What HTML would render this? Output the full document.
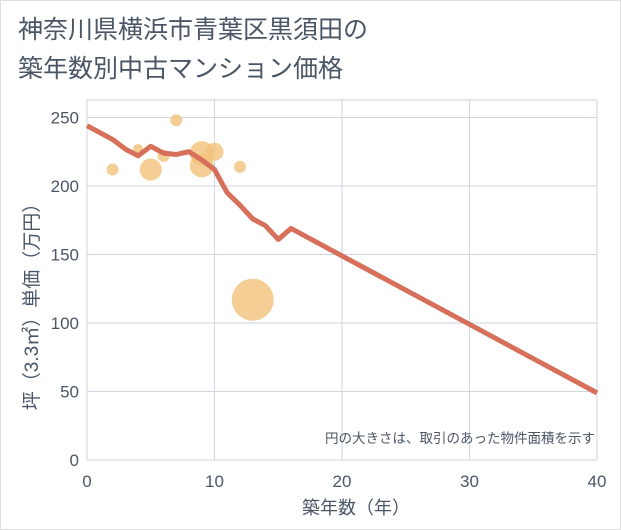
<!DOCTYPE html>
<html><head><meta charset="utf-8"><style>
body{margin:0;background:#fff;font-family:"Liberation Sans","Noto Sans CJK JP",sans-serif}
svg{display:block}
</style></head><body>
<svg width="621" height="530">
<rect x="0.5" y="0.5" width="620" height="529" fill="#fff" stroke="#ddd"/>
<text x="18" y="38" font-size="25" fill="#4a5666">神奈川県横浜市青葉区黒須田の</text>
<text x="18" y="77" font-size="25" fill="#4a5666">築年数別中古マンション価格</text>
<g id="grid"></g>
<g id="marks"></g>
<text x="595" y="443" font-size="13.5" fill="#4a5666" text-anchor="end">円の大きさは、取引のあった物件面積を示す</text>
<text x="356" y="514" font-size="18" fill="#4a5666" text-anchor="middle">築年数（年）</text>
<text transform="translate(38,302) rotate(-90)" font-size="19" fill="#4a5666" text-anchor="middle">坪（3.3㎡）単価（万円）</text>
</svg>
<script>
const xTicks=[0,10,20,30,40];
const yTicks=[0,50,100,150,200,250];
const lineX=[0,1,2,3,4,5,6,7,8,9,10,11,12,13,14,15,16,40];
const lineY=[244,239,234,227,222,229,224,223,225,219,212,195,186,176,171,161,169,49];
const bubX=[2,4,5,6,7,9,9,10,12,13];
const bubY=[212,227,212,222,248,224,215,225,214,117];
const bubR=[6,5,11,6,6,12,12,9,6,21];
const L=87,R=597,T=100,B=460;
const sx=v=>L+(v-0)/40*(R-L);
const sy=v=>B-v*1.37;
const ns="http://www.w3.org/2000/svg";
const g=document.getElementById('grid'),m=document.getElementById('marks');
function el(t,a,p){const e=document.createElementNS(ns,t);for(const k in a)e.setAttribute(k,a[k]);p.appendChild(e);return e;}
const frame=el('rect',{x:L,y:T,width:R-L,height:B-T,fill:'none',stroke:'#ccc'},g);


xTicks.forEach(v=>{
 const ln=el('line',{x1:sx(v),x2:sx(v),y1:T,y2:B,stroke:'#cdd6e0'},g);
 
 
 const t=el('text',{x:sx(v),y:B+27,'font-size':17,fill:'#4a5666','text-anchor':'middle'},g);t.textContent=v;
 
 
});
yTicks.forEach(v=>{
 const ln=el('line',{x1:L,x2:R,y1:sy(v),y2:sy(v),stroke:'#cdd6e0'},g);
 
 
 const t=el('text',{x:L-8,y:sy(v)+6,'font-size':17,fill:'#4a5666','text-anchor':'end'},g);t.textContent=v;
 
 
});
bubX.forEach((x,i)=>{
 const c=el('circle',{cx:sx(x),cy:sy(bubY[i]),r:bubR[i],fill:'#f3c27a','fill-opacity':0.8},m);
 
 
});
const p=el('polyline',{points:lineX.map((x,i)=>sx(x)+','+sy(lineY[i])).join(' '),fill:'none',stroke:'#d7705a','stroke-width':5,'stroke-linejoin':'round'},m);


</script>
</body></html>
